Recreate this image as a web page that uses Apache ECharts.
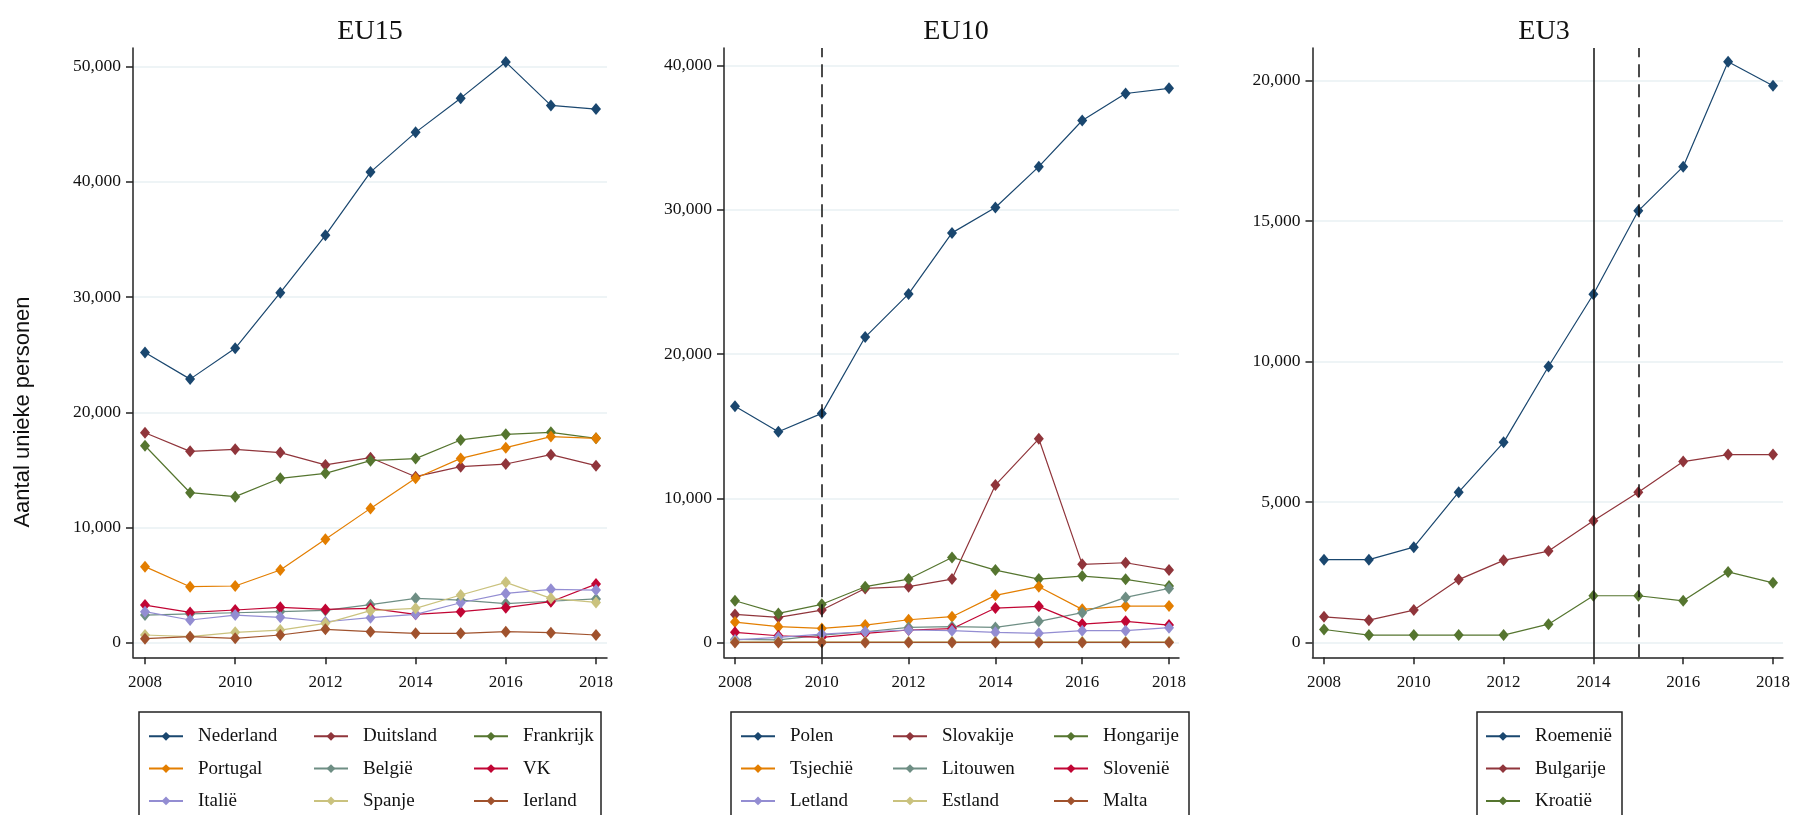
<!DOCTYPE html>
<html>
<head>
<meta charset="utf-8">
<script src="https://cdn.jsdelivr.net/npm/echarts@6/dist/echarts.min.js"></script>
<style>
  html, body { margin: 0; padding: 0; background: #fff; }
  #chart { width: 1793px; height: 815px; }
</style>
</head>
<body>
<div id="chart"></div>
<script>
var years = [2008, 2009, 2010, 2011, 2012, 2013, 2014, 2015, 2016, 2017, 2018];
var xTicks = [2008, 2010, 2012, 2014, 2016, 2018];

// EU15
var nederland = [25200, 22880, 25550, 30380, 35360, 40850, 44300, 47270, 50400, 46640, 46320];
var duitsland = [18230, 16610, 16790, 16500, 15430, 16060, 14410, 15280, 15510, 16320, 15370];
var frankrijk = [17100, 13020, 12680, 14270, 14700, 15800, 15980, 17600, 18090, 18260, 17740];
var portugal  = [6600, 4860, 4920, 6310, 8970, 11660, 14270, 16000, 16930, 17890, 17740];
var belgie    = [2400, 2500, 2600, 2700, 2800, 3300, 3850, 3700, 3400, 3600, 3800];
var vk        = [3270, 2630, 2840, 3070, 2890, 2980, 2460, 2690, 3040, 3560, 5090];
var italie    = [2690, 1970, 2400, 2200, 1820, 2170, 2460, 3470, 4280, 4630, 4570];
var spanje    = [670, 520, 900, 1100, 1680, 2780, 2980, 4140, 5240, 3850, 3500];
var ierland   = [350, 520, 380, 670, 1160, 960, 810, 810, 960, 870, 670];

// EU10
var polen     = [16390, 14620, 15890, 21180, 24170, 28400, 30160, 32990, 36190, 38060, 38420];
var slovakije = [1960, 1750, 2260, 3760, 3880, 4410, 10920, 14130, 5430, 5540, 5030];
var hongarije = [2910, 2030, 2660, 3880, 4410, 5910, 5030, 4410, 4620, 4390, 3930];
var tsjechie  = [1430, 1110, 990, 1220, 1590, 1800, 3280, 3880, 2310, 2540, 2540];
var litouwen  = [230, 190, 530, 760, 1060, 1110, 1060, 1480, 2080, 3140, 3760];
var slovenie  = [720, 480, 370, 650, 880, 970, 2400, 2520, 1290, 1480, 1220];
var letland   = [190, 370, 600, 760, 880, 830, 720, 650, 830, 830, 1040];
var estland   = [60, 60, 60, 60, 60, 60, 60, 60, 60, 60, 60];
var malta     = [20, 20, 20, 20, 20, 20, 20, 20, 20, 20, 20];

// EU3
var roemenie  = [2955, 2955, 3400, 5355, 7130, 9830, 12400, 15370, 16940, 20675, 19820];
var bulgarije = [920, 800, 1160, 2245, 2930, 3260, 4340, 5355, 6445, 6695, 6695];
var kroatie   = [470, 270, 270, 270, 270, 660, 1670, 1670, 1490, 2520, 2130];

var titles = ['EU15', 'EU10', 'EU3'];
var yTicks = [
    [0, 10000, 20000, 30000, 40000, 50000],
    [0, 10000, 20000, 30000, 40000],
    [0, 5000, 10000, 15000, 20000]
];

var panels = [
    [['Nederland', nederland], ['Duitsland', duitsland], ['Frankrijk', frankrijk],
     ['Portugal', portugal], ['België', belgie], ['VK', vk],
     ['Italië', italie], ['Spanje', spanje], ['Ierland', ierland]],
    [['Polen', polen], ['Slovakije', slovakije], ['Hongarije', hongarije],
     ['Tsjechië', tsjechie], ['Litouwen', litouwen], ['Slovenië', slovenie],
     ['Letland', letland], ['Estland', estland], ['Malta', malta]],
    [['Roemenië', roemenie], ['Bulgarije', bulgarije], ['Kroatië', kroatie]]
];

var colors = ['#1a476f', '#90353b', '#55752f', '#e37e00', '#6e8e84',
              '#c10534', '#938dd2', '#cac27e', '#a0522d'];
var eu3Colors = ['#1a476f', '#90353b', '#55752f'];

var serif = '"Liberation Serif", "Times New Roman", serif';

// layout of the three panels
var grids = [
    { left: 133, top: 48, width: 474, height: 609.3 },
    { left: 724, top: 48, width: 455, height: 609.3 },
    { left: 1312.5, top: 48, width: 471.5, height: 609.3 }
];
var titleX = [365, 951, 1539];
var xRange = [[2007.734, 2018.244], [2007.747, 2018.230], [2007.744, 2018.222]];
var yRange = [[-1267, 51623], [-1012, 41213], [-520, 21164]];

var fmt = function (v) { return v.toLocaleString('en-US'); };

var xAxes = [], yAxes = [], series = [], legends = [], titleList = [], graphics = [];

grids.forEach(function (g, p) {
    xAxes.push({
        type: 'value', gridIndex: p, min: xRange[p][0], max: xRange[p][1],
        axisLine: { show: true, onZero: false, lineStyle: { color: '#222', width: 1.5 } },
        axisTick: { show: true, length: 7, customValues: xTicks, lineStyle: { color: '#222', width: 1.5 } },
        axisLabel: { customValues: xTicks, margin: 17, fontFamily: serif, fontSize: 17, color: '#111',
                     formatter: function (v) { return String(v); } },
        splitLine: { show: false }
    });
    yAxes.push({
        type: 'value', gridIndex: p, min: yRange[p][0], max: yRange[p][1],
        axisLine: { show: true, onZero: false, lineStyle: { color: '#222', width: 1.5 } },
        axisTick: { show: true, length: 7, customValues: yTicks[p], lineStyle: { color: '#222', width: 1.5 } },
        axisLabel: { customValues: yTicks[p], margin: 12, fontFamily: serif, fontSize: 17.5, color: '#111', formatter: fmt },
        splitLine: { show: true, lineStyle: { color: '#e9f0f3', width: 1.5 } }
    });
    titleList.push({
        text: titles[p], left: titleX[p], top: 13, textAlign: 'center',
        textStyle: { fontFamily: serif, fontSize: 28, fontWeight: 'normal', color: '#111' }
    });
});

// legend columns (x of the key symbol) and frame of each legend box
var legendCols = [[148, 313, 473], [740, 892, 1053], [1485]];
var legendBox = [[139, 462], [731, 458], [1477, 145]];

panels.forEach(function (list, p) {
    var pal = p === 2 ? eu3Colors : colors;
    var cols = legendCols[p];
    list.forEach(function (item, i) {
        series.push({
            name: item[0], type: 'line', xAxisIndex: p, yAxisIndex: p,
            data: years.map(function (y, k) { return [y, item[1][k]]; }),
            symbol: 'diamond', symbolSize: [10, 12],
            color: pal[i],
            lineStyle: { width: 1.2, color: pal[i] },
            itemStyle: { color: pal[i] },
            emphasis: { disabled: true }
        });
    });
    cols.forEach(function (x, c) {
        var names = list.filter(function (d, i) { return i % cols.length === c; })
                        .map(function (d) { return d[0]; });
        legends.push({
            data: names, orient: 'vertical', left: x, top: 726.8,
            padding: 0, itemGap: 13.3, itemWidth: 34, itemHeight: 11,
            selectedMode: false,
            formatter: '{t|{name}}',
            textStyle: {
                fontFamily: serif, fontSize: 19, color: '#111',
                rich: { t: { padding: [0, 0, 0, 10], fontFamily: serif, fontSize: 19, color: '#111' } }
            }
        });
    });
    graphics.push({
        type: 'rect', silent: true,
        shape: { x: legendBox[p][0], y: 712, width: legendBox[p][1], height: 150 },
        style: { fill: 'none', stroke: '#222', lineWidth: 1.5 }
    });
});

// reference lines
var dashed = [13, 7];
series[9].markLine = {
    silent: true, symbol: 'none', label: { show: false },
    lineStyle: { color: '#111', width: 1.5, type: dashed },
    data: [{ xAxis: 2010 }]
};
series[18].markLine = {
    silent: true, symbol: 'none', label: { show: false },
    lineStyle: { color: '#111', width: 1.5 },
    data: [
        { xAxis: 2014, lineStyle: { type: 'solid' } },
        { xAxis: 2015, lineStyle: { type: dashed } }
    ]
};

graphics.push({
    type: 'text', silent: true, x: 23, y: 412, rotation: Math.PI / 2,
    style: {
        text: 'Aantal unieke personen', fill: '#111',
        font: '22px "Liberation Sans", Arial, sans-serif',
        align: 'center', verticalAlign: 'middle'
    }
});

var chart = echarts.init(document.getElementById('chart'));
chart.setOption({
    animation: false,
    backgroundColor: '#fff',
    title: titleList,
    grid: grids,
    xAxis: xAxes,
    yAxis: yAxes,
    legend: legends,
    graphic: graphics,
    series: series
});
window.onresize = chart.resize;
</script>
</body>
</html>
